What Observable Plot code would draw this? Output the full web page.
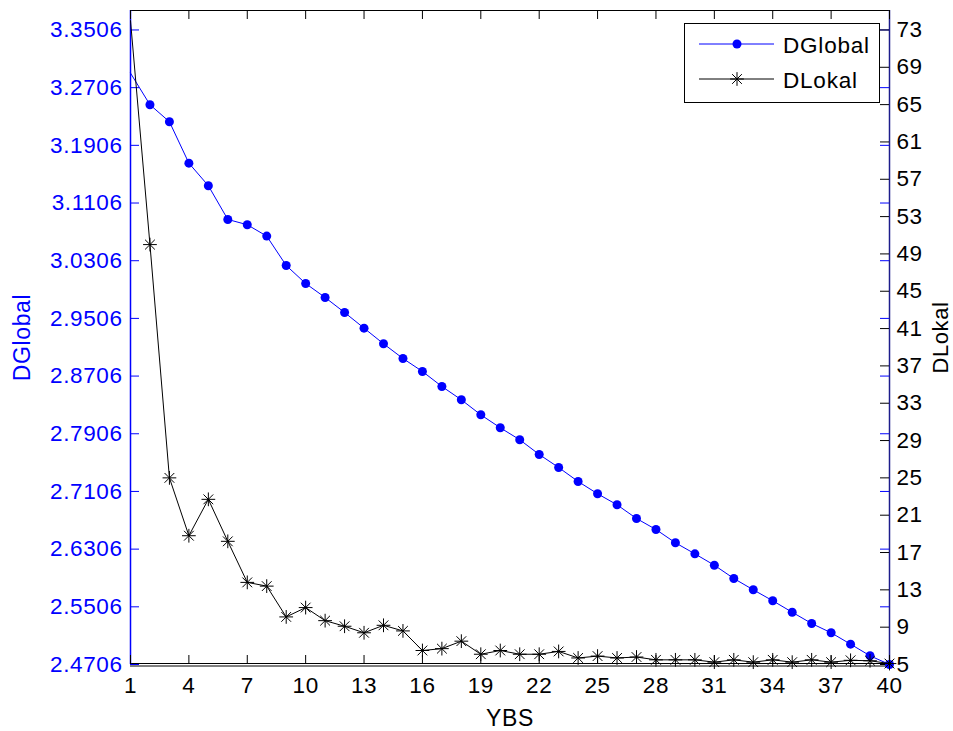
<!DOCTYPE html>
<html><head><meta charset="utf-8">
<script src="https://cdn.jsdelivr.net/npm/d3@7"></script>
<script src="https://cdn.jsdelivr.net/npm/@observablehq/plot@0.6"></script>
<style>
body{margin:0;background:#fff;}
#wrap{position:relative;width:953px;height:731px;font-family:"Liberation Sans",Arial,sans-serif;}
#legend{position:absolute;left:0;top:0;pointer-events:none;}
</style></head><body><div id="wrap"></div>
<script>
const ybs = d3.range(1, 41);
const dGlobal = [3.2908, 3.2469, 3.2233, 3.1659, 3.1346, 3.0878, 3.0805, 3.0647, 3.0240, 2.9990,
  2.9796, 2.9588, 2.9371, 2.9154, 2.8950, 2.8770, 2.8562, 2.8377, 2.8169, 2.7989,
  2.7823, 2.7619, 2.7438, 2.7244, 2.7074, 2.6921, 2.6731, 2.6578, 2.6394, 2.6241,
  2.6083, 2.5899, 2.5742, 2.5590, 2.5431, 2.5275, 2.5146, 2.4988, 2.4827, 2.4706];
const dLokal = [74.0, 50.0, 25.0, 18.8, 22.7, 18.2, 13.8, 13.4, 10.1, 11.1,
  9.7, 9.1, 8.4, 9.2, 8.6, 6.5, 6.7, 7.5, 6.1, 6.5,
  6.1, 6.1, 6.4, 5.7, 5.9, 5.7, 5.8, 5.5, 5.5, 5.5,
  5.25, 5.5, 5.25, 5.5, 5.25, 5.5, 5.25, 5.45, 5.4, 5.1];
const xTicks = [1, 4, 7, 10, 13, 16, 19, 22, 25, 28, 31, 34, 37, 40];
const leftTicks = [2.4706, 2.5506, 2.6306, 2.7106, 2.7906, 2.8706, 2.9506, 3.0306, 3.1106, 3.1906, 3.2706, 3.3506];
const rightTicks = [5, 9, 13, 17, 21, 25, 29, 33, 37, 41, 45, 49, 53, 57, 61, 65, 69, 73];
const leftDomain = [2.4706, 3.3776];
const xDomain = [1, 40];
const seriesNames = ["DGlobal", "DLokal"];
const axisLabels = {x: "YBS", left: "DGlobal", right: "DLokal"};

// map right-axis values onto the left scale (ticks of both axes share ends)
const L0 = leftTicks[0], L1 = leftTicks[leftTicks.length - 1];
const R0 = rightTicks[0], R1 = rightTicks[rightTicks.length - 1];
const toLeft = v => L0 + (v - R0) * (L1 - L0) / (R1 - R0);
const fromLeft = v => R0 + (v - L0) * (R1 - R0) / (L1 - L0);

const W = 953, H = 731, mL = 130, mR = 64, mT = 10, mB = 67;
const pw = W - mL - mR, ph = H - mT - mB, tk = 9;

const gData = ybs.map((x, i) => ({x, v: dGlobal[i]}));
const lData = ybs.map((x, i) => ({x, v: toLeft(dLokal[i])}));
const BLUE = "#0000ff";
const FS = 22.5;

const chart = Plot.plot({
  width: W, height: H,
  marginLeft: mL, marginRight: mR, marginTop: mT, marginBottom: mB,
  style: {fontFamily: "Liberation Sans, Arial, sans-serif", fontSize: FS + "px", letterSpacing: "0.6px", background: "white", overflow: "visible"},
  x: {domain: xDomain},
  y: {domain: leftDomain},
  marks: [
    // frame
    Plot.ruleY([leftDomain[1]], {stroke: "black"}),
    Plot.ruleY([leftDomain[0]], {stroke: "black", dy: -1}),
    Plot.ruleY([leftDomain[0]], {stroke: "black", dy: 1.5}),
    Plot.ruleX([xDomain[0]], {stroke: BLUE, strokeWidth: 1.5}),
    Plot.ruleX([xDomain[1]], {stroke: "#1c1c8c", strokeWidth: 1.5}),
    // inward ticks
    Plot.ruleY(leftTicks, {stroke: BLUE, insetRight: pw - tk}),
    Plot.ruleY(leftTicks, {stroke: BLUE, insetLeft: pw - tk}),
    Plot.ruleY(rightTicks.map(toLeft), {stroke: "black", insetLeft: pw - tk}),
    Plot.ruleX(xTicks, {stroke: "black", insetBottom: ph - tk}),
    Plot.ruleX(xTicks, {stroke: "black", insetTop: ph - tk}),
    // tick labels
    Plot.axisY(leftTicks, {anchor: "left", tickSize: 0, tickPadding: 8, tickFormat: d => d.toFixed(4), color: BLUE, label: null, fontSize: FS}),
    Plot.axisY(rightTicks.map(toLeft), {anchor: "right", tickSize: 0, tickPadding: 7, tickFormat: d => String(Math.round(fromLeft(d))), color: "black", label: null, fontSize: FS}),
    Plot.axisX(xTicks, {anchor: "bottom", tickSize: 0, tickPadding: 13, color: "black", label: null, fontSize: FS}),
    // axis titles
    Plot.text([axisLabels.left], {frameAnchor: "left", dx: -108, rotate: -90, fill: BLUE, fontSize: 23, lineAnchor: "middle", textAnchor: "middle"}),
    Plot.text([axisLabels.right], {frameAnchor: "right", dx: 51, rotate: -90, fill: "black", fontSize: 22, lineAnchor: "middle", textAnchor: "middle"}),
    Plot.text([axisLabels.x], {frameAnchor: "bottom", dy: 54, fill: "black", fontSize: 23, lineAnchor: "middle", textAnchor: "middle"}),
    // DGlobal
    Plot.line(gData, {x: "x", y: "v", stroke: BLUE, strokeWidth: 1}),
    Plot.dot(gData.filter(d => d.x > 1), {x: "x", y: "v", r: 4.5, fill: BLUE, stroke: "none"}),
    // DLokal
    Plot.line(lData, {x: "x", y: "v", stroke: "black", strokeWidth: 1, clip: true}),
    Plot.dot(lData.filter(d => d.x > 1), {x: "x", y: "v", symbol: "plus", r: 4.5, stroke: "black", strokeWidth: 1}),
    Plot.dot(lData.filter(d => d.x > 1), {x: "x", y: "v", symbol: "times", r: 4.5, stroke: "black", strokeWidth: 1})
  ]
});

const wrap = document.getElementById("wrap");
wrap.appendChild(chart);

// legend overlay
const svg = d3.select(wrap).append("svg").attr("id", "legend").attr("width", W).attr("height", H);
const lg = svg.append("g").attr("font-family", "Liberation Sans, Arial, sans-serif").attr("font-size", 22.5).attr("letter-spacing", "0.8px");
lg.append("rect").attr("x", 684.5).attr("y", 23.5).attr("width", 195).attr("height", 79).attr("fill", "white").attr("stroke", "black");
const rows = [{name: seriesNames[0], color: BLUE, y: 44}, {name: seriesNames[1], color: "black", y: 79}];
rows.forEach((r, i) => {
  lg.append("line").attr("x1", 699).attr("x2", 774).attr("y1", r.y).attr("y2", r.y).attr("stroke", r.color);
  if (i === 0) {
    lg.append("circle").attr("cx", 737).attr("cy", r.y).attr("r", 4.5).attr("fill", BLUE);
  } else {
    const s = Math.PI * 4.5 * 4.5;
    lg.append("path").attr("transform", `translate(737,${r.y})`).attr("d", d3.symbol(d3.symbolPlus, s)()).attr("stroke", "black").attr("fill", "none");
    lg.append("path").attr("transform", `translate(737,${r.y})`).attr("d", d3.symbol(d3.symbolTimes, s)()).attr("stroke", "black").attr("fill", "none");
  }
  lg.append("text").attr("x", 783).attr("y", r.y + 1).attr("dominant-baseline", "central").attr("fill", "black").text(r.name);
});
</script></body></html>
